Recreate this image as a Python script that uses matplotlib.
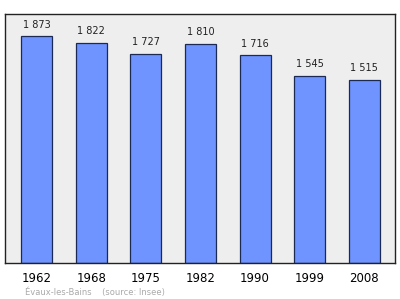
import matplotlib
matplotlib.use("Agg")
import matplotlib.pyplot as plt

years = ["1962", "1968", "1975", "1982", "1990", "1999", "2008"]
population = [1873, 1822, 1727, 1810, 1716, 1545, 1515]
labels = ["1 873", "1 822", "1 727", "1 810", "1 716", "1 545", "1 515"]

fig = plt.figure(figsize=(4.0, 2.99), dpi=100)
ax = fig.add_axes([4.5/400, 1 - 263.2/299, 390.5/400, (263.2-13.5)/299])
ax.set_facecolor("#eeeeee")
x = list(range(len(years)))
ax.bar(x, population, width=0.567, color="#6f94ff", edgecolor="#1a2a55", linewidth=0.9, zorder=2)
for xi, v, lab in zip(x, population, labels):
    ax.annotate(lab, (xi, v), xytext=(0, 5), textcoords="offset points",
                ha="center", va="bottom", fontsize=7, color="#222222")
ax.set_xlim(-0.585, 6.56)
ax.set_ylim(0, 2063)
ax.set_yticks([])
ax.set_xticks(x)
ax.set_xticklabels(years, fontsize=8.5)
ax.tick_params(axis="x", length=0, pad=6)
for s in ax.spines.values():
    s.set_linewidth(1.0)
    s.set_color("#222222")
fig.text(25/400, 1 - 292/299, "Évaux-les-Bains    (source: Insee)", fontsize=6, color="#aaaaaa",
         ha="left", va="center")
fig.savefig("out.png", dpi=100)
